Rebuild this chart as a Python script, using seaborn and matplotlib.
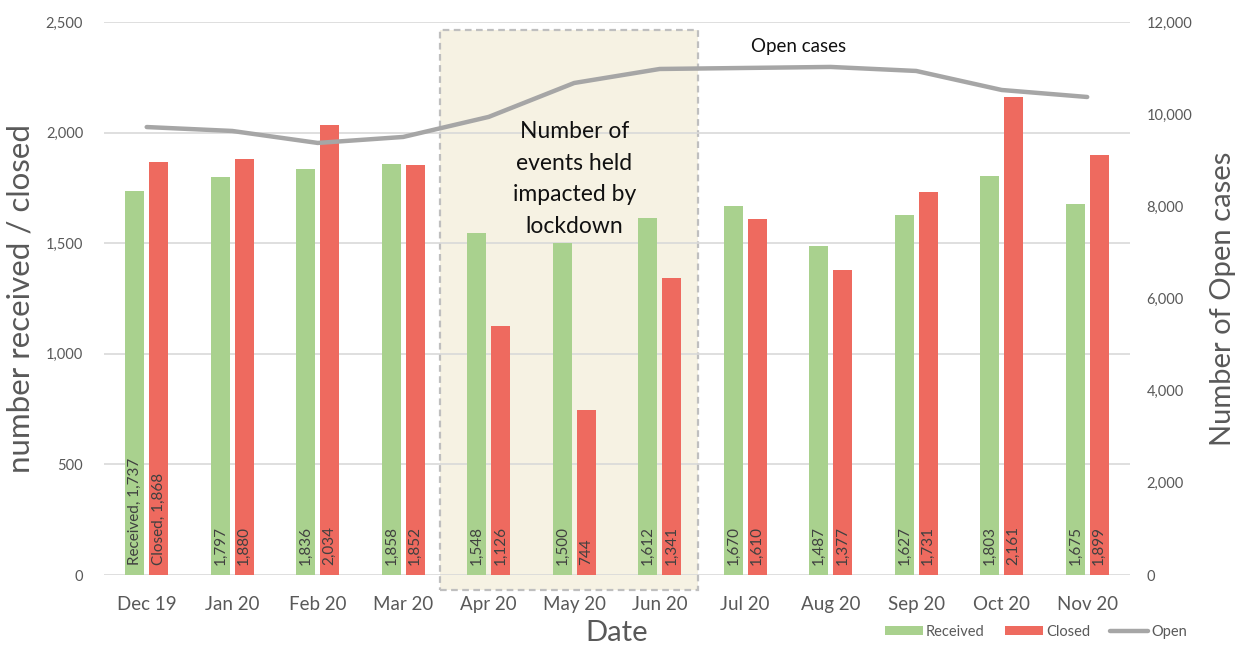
import numpy as np
import pandas as pd
import matplotlib
matplotlib.use("Agg")
import matplotlib.pyplot as plt
import seaborn as sns
from matplotlib.patches import Rectangle, Patch
from matplotlib.lines import Line2D
from matplotlib.ticker import FuncFormatter

months = ["Dec 19", "Jan 20", "Feb 20", "Mar 20", "Apr 20", "May 20",
          "Jun 20", "Jul 20", "Aug 20", "Sep 20", "Oct 20", "Nov 20"]
received = [1737, 1797, 1836, 1858, 1548, 1500, 1612, 1670, 1487, 1627, 1803, 1675]
closed = [1868, 1880, 2034, 1852, 1126, 744, 1341, 1610, 1377, 1731, 2161, 1899]
open_cases = [9720, 9635, 9375, 9505, 9940, 10676, 10980, 11002, 11024, 10937, 10524, 10372]

sns.set_theme(style="white")
plt.rcParams["font.family"] = ["Lato", "DejaVu Sans"]

GREEN = "#A9D18E"
RED = "#EE6A5F"
GREY_LINE = "#A6A6A6"
TXT = "#595959"

df = pd.DataFrame({
    "Date": months * 2,
    "value": received + closed,
    "series": ["Received"] * len(months) + ["Closed"] * len(months),
})

fig = plt.figure(figsize=(12.36, 6.46), dpi=100)
ax = fig.add_axes([0.0841, 0.1099, 0.8301, 0.8561])

sns.barplot(data=df, x="Date", y="value", hue="series", order=months,
            hue_order=["Received", "Closed"], palette=[GREEN, RED],
            width=0.56, gap=0.21, ax=ax, legend=False, saturation=1,
            linewidth=0, edgecolor="none")

ax.set_ylim(0, 2500)
ax.set_xlim(-0.5, len(months) - 0.5)
ax.set_yticks(np.arange(0, 2501, 500))
ax.yaxis.set_major_formatter(FuncFormatter(lambda v, p: f"{int(v):,}"))
ax.grid(axis="y", color="#D9D9D9", lw=1.2)
ax.set_axisbelow(True)
for s in ax.spines.values():
    s.set_visible(False)
ax.tick_params(axis="y", labelsize=10.5, colors=TXT, length=0, pad=15)
ax.tick_params(axis="x", labelsize=13.5, colors=TXT, length=0, pad=15)
ax.set_xlabel("Date", fontsize=21, color=TXT, labelpad=5)
ax.set_ylabel("number received / closed", fontsize=22.5, color=TXT, labelpad=8)

# lockdown box (behind bars, gridlines drawn over it)
box = Rectangle((3.43, -68), 3.02, 2532, clip_on=False,
                facecolor="#F6F2E3", edgecolor="#BFBFBF",
                lw=1.6, ls=(0, (3, 2)), zorder=0.3)
ax.add_patch(box)

# value labels at bar bases
for cont, vals, name in zip(ax.containers, [received, closed], ["Received", "Closed"]):
    for i, (bar, v) in enumerate(zip(cont, vals)):
        lab = f"{name}, {v:,}" if i == 0 else f"{v:,}"
        ax.annotate(lab, (bar.get_x() + bar.get_width() / 2, 0), xytext=(0, 7),
                    textcoords="offset points", rotation=90, ha="center", va="bottom",
                    fontsize=11, color="#404040")

ax2 = ax.twinx()
sns.lineplot(x=np.arange(len(months)), y=open_cases, ax=ax2, color=GREY_LINE, lw=3.2)
ax2.set_ylim(0, 12000)
ax2.set_yticks(np.arange(0, 12001, 2000))
ax2.yaxis.set_major_formatter(FuncFormatter(lambda v, p: f"{int(v):,}"))
ax2.tick_params(axis="y", labelsize=10.5, colors=TXT, length=0, pad=12)
ax2.set_ylabel("Number of Open cases", fontsize=21, color=TXT, labelpad=13)
ax2.grid(False)
for s in ax2.spines.values():
    s.set_visible(False)

ax2.text(5.0, 1790 * 12000 / 2500, "Number of\nevents held\nimpacted by\nlockdown",
         ha="center", va="center", fontsize=16.5,
         color="#111111", linespacing=1.62, zorder=11)
ax2.text(7.62, 2387 * 12000 / 2500, "Open cases", ha="center", va="center",
         fontsize=13.5, color="#111111", zorder=11)

handles = [Patch(facecolor=GREEN, edgecolor="none", label="Received"),
           Patch(facecolor=RED, edgecolor="none", label="Closed"),
           Line2D([0], [0], color=GREY_LINE, lw=3.2, label="Open")]
fig.legend(handles=handles, loc="center", bbox_to_anchor=(1036 / 1236, 1 - 632 / 646),
           ncol=3, frameon=False, fontsize=10.5, labelcolor=TXT, handlelength=2.6,
           handleheight=0.6, handletextpad=0.2, columnspacing=1.4)

fig.savefig("out.png", dpi=100)
